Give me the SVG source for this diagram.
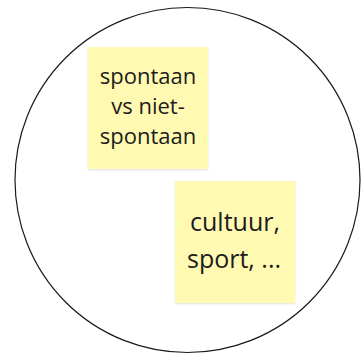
<svg xmlns="http://www.w3.org/2000/svg" width="361" height="354" viewBox="0 0 361 354">
<style>
.note{fill:#fff9b1;filter:drop-shadow(0 1px 1px rgba(0,0,0,0.12));}
.t{font-family:"Open Sans","Noto Sans",sans-serif;font-size:22px;fill:#1c1c1c;text-anchor:middle;}
.big{font-size:25px;}
</style>
<rect width="361" height="354" fill="#ffffff"/>
<g id="circle">
<ellipse cx="187.5" cy="180" rx="172.5" ry="172.5" fill="none" stroke="#1a1a1a" stroke-width="1.2"/>
</g>
<g id="note1">
<rect class="note" x="88" y="47" width="120" height="122"/>
<text class="t" x="148" y="84">spontaan</text>
<text class="t" x="148" y="114">vs niet-</text>
<text class="t" x="148" y="143.5">spontaan</text>
</g>
<g id="note2">
<rect class="note" x="175" y="181" width="120" height="122"/>
<text class="t big" x="235" y="231">cultuur,</text>
<text class="t big" x="234" y="268">sport, ...</text>
</g>
<g id="connectors"></g>
</svg>
